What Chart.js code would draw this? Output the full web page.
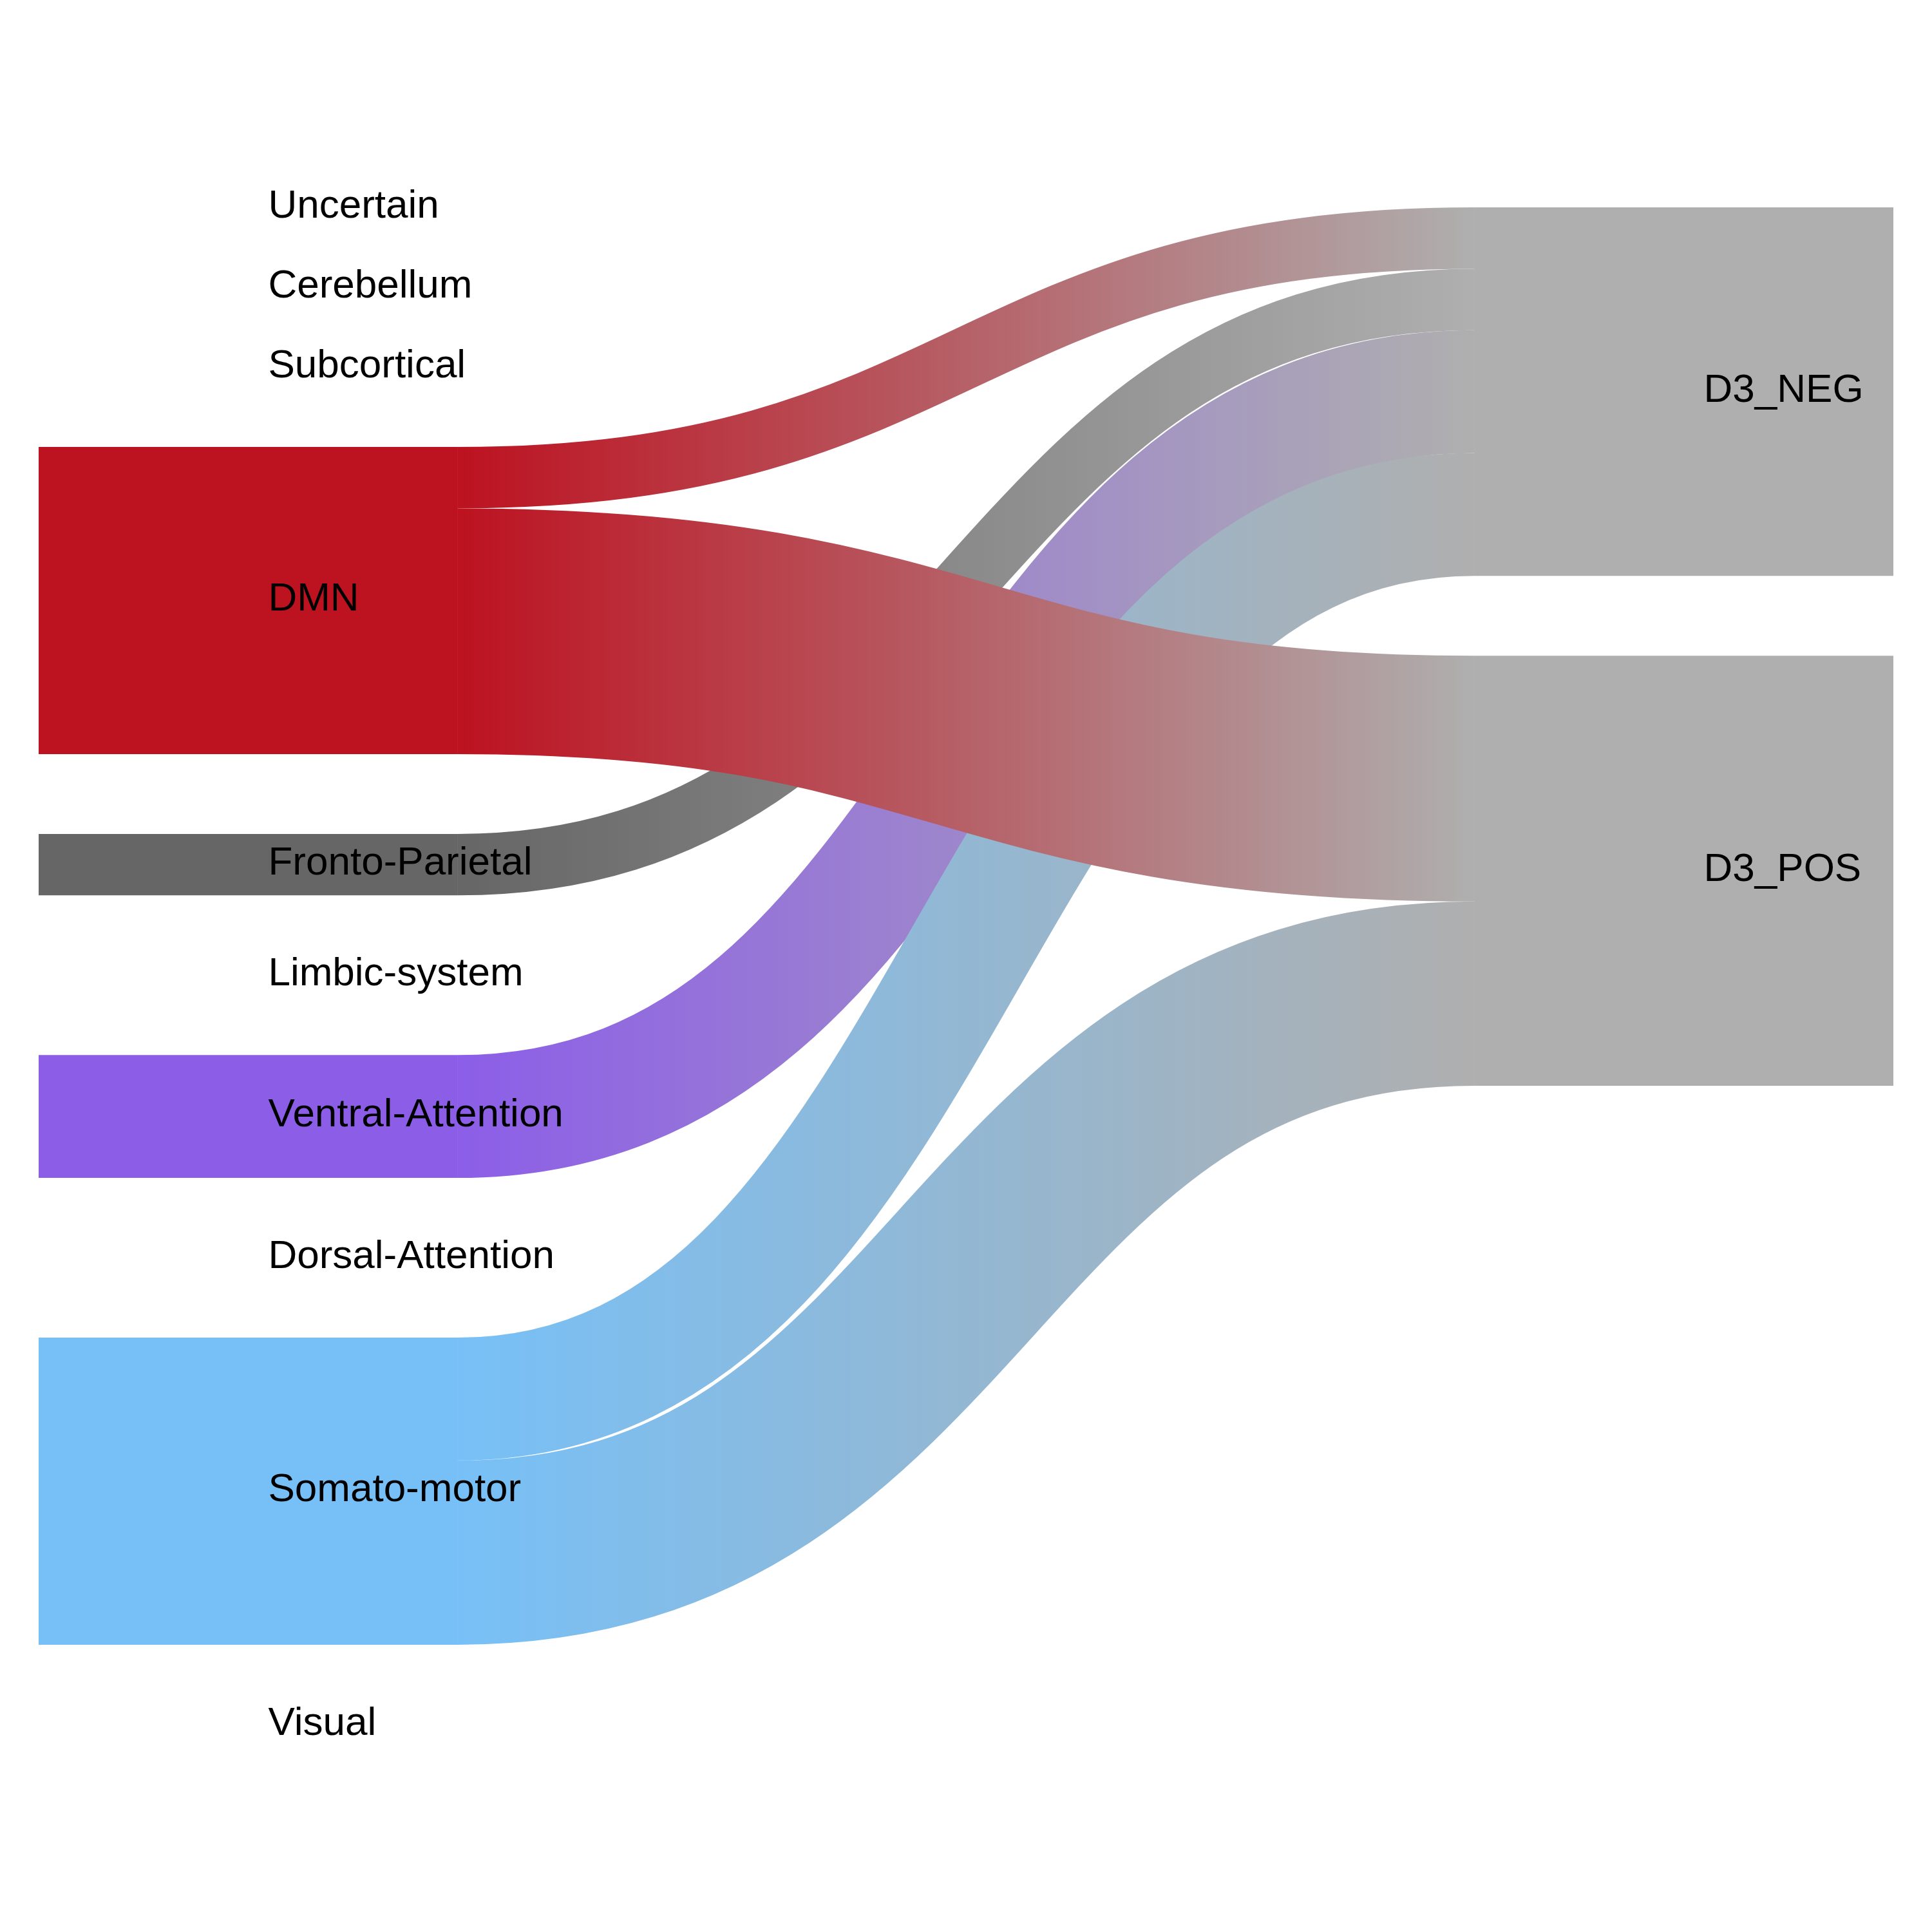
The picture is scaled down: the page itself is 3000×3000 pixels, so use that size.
<!DOCTYPE html>
<html>
<head>
<meta charset="utf-8">
<title>Sankey</title>
<script src="https://cdn.jsdelivr.net/npm/chart.js@4.4.1/dist/chart.umd.min.js"></script>
<style>
  html, body { margin: 0; padding: 0; background: #ffffff; }
  canvas { display: block; }
</style>
</head>
<body>
<canvas id="sankeyArea" width="3000" height="3000"></canvas>
<script>
// nodes (left column = 0, right column = 1)
const nodeLabels = [
  'Uncertain', 'Cerebellum', 'Subcortical', 'DMN', 'Fronto-Parietal',
  'Limbic-system', 'Ventral-Attention', 'Dorsal-Attention', 'Somato-motor', 'Visual',
  'D3_NEG', 'D3_POS'
];
const nodeColumn = [0, 0, 0, 0, 0, 0, 0, 0, 0, 0, 1, 1];
const nodeColors = [
  '#afafaf', '#afafaf', '#afafaf', '#bd1220', '#666666',
  '#afafaf', '#8c5ee8', '#afafaf', '#77c0f7', '#afafaf',
  '#afafaf', '#afafaf'
];

// links (listed in drawing order)
const linkSource = [3, 4, 6, 8, 8, 3];
const linkTarget = [10, 10, 10, 10, 11, 11];
const linkValue = [1, 1, 2, 2, 3, 4];

const NODE_GAP = 1.3;   // space between nodes, in flow units
const COL_PAD = 0.146;  // x axis margin so the node columns sit at 0 and 1
const NODE_WIDTH = 651;
const FONT_SIZE = 62;

// node size = max(outgoing, incoming)
const nodeValue = nodeLabels.map((_, i) => {
  let out = 0, inc = 0;
  linkValue.forEach((v, k) => {
    if (linkSource[k] === i) out += v;
    if (linkTarget[k] === i) inc += v;
  });
  return Math.max(out, inc);
});

// stack the nodes of each column from the top
const nodeStart = [];
const nodeEnd = [];
const cursor = {};
nodeLabels.forEach((_, i) => {
  const c = nodeColumn[i];
  const y = cursor[c] || 0;
  nodeStart[i] = y;
  nodeEnd[i] = y + nodeValue[i];
  cursor[c] = nodeEnd[i] + NODE_GAP;
});
const yMax = Math.max(...Object.values(cursor)) - NODE_GAP;

// where each link leaves its source and enters its target
const linkSrcY = [];
const linkTgtY = [];
const linkIdx = linkValue.map((_, k) => k);
nodeLabels.forEach((_, i) => {
  let y = nodeStart[i];
  linkIdx.filter(k => linkSource[k] === i)
    .sort((a, b) => nodeStart[linkTarget[a]] - nodeStart[linkTarget[b]])
    .forEach(k => { linkSrcY[k] = [y, y + linkValue[k]]; y += linkValue[k]; });
  y = nodeStart[i];
  linkIdx.filter(k => linkTarget[k] === i)
    .sort((a, b) => nodeStart[linkSource[a]] - nodeStart[linkSource[b]])
    .forEach(k => { linkTgtY[k] = [y, y + linkValue[k]]; y += linkValue[k]; });
});

const sankeyPlugin = {
  id: 'sankeyLinks',
  afterDatasetsDraw(chart) {
    const ctx = chart.ctx;
    const yScale = chart.scales.y;
    const bars = chart.getDatasetMeta(0).data;

    // links: thick bezier strokes, colour fading from source to target
    linkValue.forEach((v, k) => {
      const s = bars[linkSource[k]];
      const t = bars[linkTarget[k]];
      const x0 = s.x + s.width / 2;
      const x1 = t.x - t.width / 2;
      const xm = (x0 + x1) / 2;
      const sy = yScale.getPixelForValue((linkSrcY[k][0] + linkSrcY[k][1]) / 2);
      const ty = yScale.getPixelForValue((linkTgtY[k][0] + linkTgtY[k][1]) / 2);
      const w = Math.abs(yScale.getPixelForValue(v) - yScale.getPixelForValue(0));

      const grad = ctx.createLinearGradient(x0, 0, x1, 0);
      grad.addColorStop(0, nodeColors[linkSource[k]]);
      grad.addColorStop(1, nodeColors[linkTarget[k]]);

      ctx.save();
      ctx.beginPath();
      ctx.moveTo(x0, sy);
      ctx.bezierCurveTo(xm, sy, xm, ty, x1, ty);
      ctx.lineWidth = w;
      ctx.lineCap = 'butt';
      ctx.strokeStyle = grad;
      ctx.stroke();
      ctx.restore();
    });

    // node labels
    ctx.save();
    ctx.font = FONT_SIZE + "px 'Liberation Sans', Arial, sans-serif";
    ctx.fillStyle = '#000000';
    ctx.textAlign = 'left';
    ctx.textBaseline = 'alphabetic';
    nodeLabels.forEach((label, i) => {
      const b = bars[i];
      const yc = (yScale.getPixelForValue(nodeStart[i]) + yScale.getPixelForValue(nodeEnd[i])) / 2;
      ctx.fillText(label, b.x + FONT_SIZE / 2, yc + FONT_SIZE * 0.25);
    });
    ctx.restore();
  }
};

const ctx = document.getElementById('sankeyArea');
const sankeyChart = new Chart(ctx, {
  type: 'bar',
  data: {
    datasets: [{
      label: 'nodes',
      data: nodeLabels.map((_, i) => ({ x: nodeColumn[i], y: [nodeStart[i], nodeEnd[i]] })),
      backgroundColor: nodeColors,
      borderWidth: 0,
      inflateAmount: 0,
      barThickness: NODE_WIDTH,
      grouped: false
    }]
  },
  plugins: [sankeyPlugin],
  options: {
    responsive: false,
    devicePixelRatio: 1,
    animation: false,
    layout: {
      padding: { left: 60, right: 60, top: 322, bottom: 322 }
    },
    plugins: {
      legend: { display: false },
      tooltip: { enabled: false }
    },
    scales: {
      x: {
        type: 'linear',
        min: -COL_PAD,
        max: 1 + COL_PAD,
        offset: false,
        display: false
      },
      y: {
        type: 'linear',
        min: 0,
        max: yMax,
        reverse: true,
        display: false
      }
    }
  }
});
</script>
</body>
</html>
